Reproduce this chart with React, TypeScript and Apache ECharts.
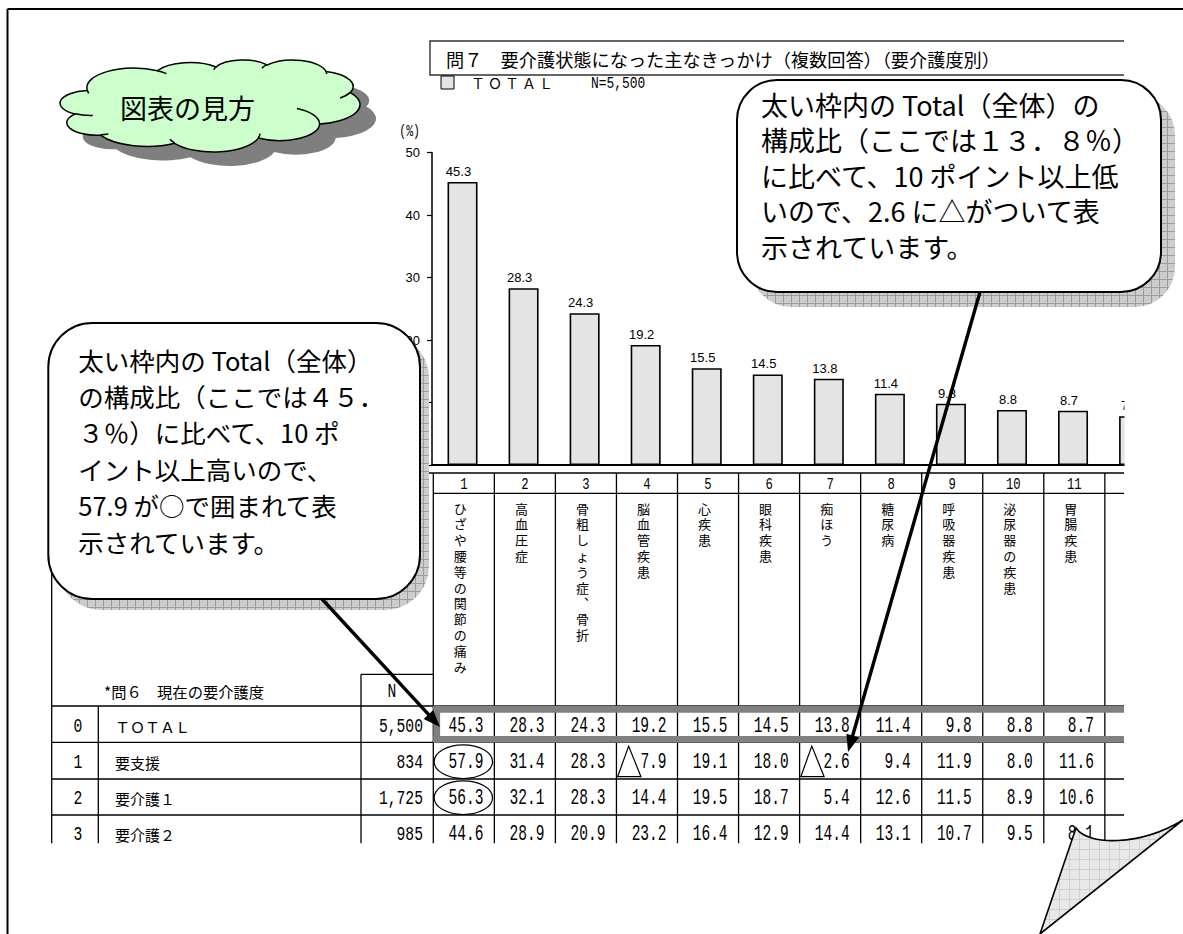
import React, { useEffect, useRef } from 'react';
import * as echarts from 'echarts';

// ---------------- data ----------------
const categoryNumbers = ['1', '2', '3', '4', '5', '6', '7', '8', '9', '10', '11', '12'];
const categoryNames = [
  'ひざや腰等の関節の痛み', '高血圧症', '骨粗しょう症、骨折', '脳血管疾患', '心疾患', '眼科疾患',
  '痴ほう', '糖尿病', '呼吸器疾患', '泌尿器の疾患', '胃腸疾患', '',
];
const totalValues = [45.3, 28.3, 24.3, 19.2, 15.5, 14.5, 13.8, 11.4, 9.8, 8.8, 8.7, 7.8];
const hiddenTickValues = [0, 10];

const rowNumbers = ['0', '1', '2', '3'];
const rowNames = ['ＴＯＴＡＬ', '要支援', '要介護１', '要介護２'];
const rowN = ['5,500', '834', '1,725', '985'];
const rowTotal = [45.3, 28.3, 24.3, 19.2, 15.5, 14.5, 13.8, 11.4, 9.8, 8.8, 8.7];
const rowYoshien = [57.9, 31.4, 28.3, 7.9, 19.1, 18.0, 2.6, 9.4, 11.9, 8.0, 11.6];
const rowKaigo1 = [56.3, 32.1, 28.3, 14.4, 19.5, 18.7, 5.4, 12.6, 11.5, 8.9, 10.6];
const rowKaigo2 = [44.6, 28.9, 20.9, 23.2, 16.4, 12.9, 14.4, 13.1, 10.7, 9.5, 8.1];
const circledCells = [[1, 0], [2, 0]];
const triangleCells = [[1, 3], [1, 6]];

const titleText = '問７　要介護状態になった主なきっかけ（複数回答）（要介護度別）';
const legendLabel = 'ＴＯＴＡＬ';
const legendN = 'N=5,500';
const yAxisName = '(%)';
const tableHeader = '*問６　現在の要介護度';
const nHeader = 'N';
const cloudLabel = '図表の見方';
const calloutRightLines = [
  '太い枠内の Total（全体）の',
  '構成比（ここでは１３．８％）',
  'に比べて、10 ポイント以上低',
  'いので、2.6 に△がついて表',
  '示されています。',
];
const calloutLeftLines = [
  '太い枠内の Total（全体）',
  'の構成比（ここでは４５．',
  '３％）に比べて、10 ポ',
  'イント以上高いので、',
  '57.9 が○で囲まれて表',
  '示されています。',
];

// ---------------- shape geometry (Office cloud preset) ----------------
const CLOUD_START = [3900, 14370];
const CLOUD_ARCS = [
  [6753, 9190, -11429249, 7426832],
  [5333, 7267, -8646143, 5396714],
  [4365, 5945, -8748475, 5983381],
  [4857, 6595, -7859164, 7034504],
  [5333, 7273, -4722533, 6541615],
  [6775, 9220, -2776035, 7816140],
  [5785, 7867, 37501, 6842000],
  [6752, 9215, 1347096, 6910353],
  [7720, 10543, 3974558, 4542661],
  [4360, 5918, -16496525, 8804134],
  [4345, 5945, -14809710, 9151131],
];
const CLOUD_INNER = [
  [4693, 26177, 4345, 5945, 5204520, 1585770],
  [6928, 34899, 4360, 5918, 4416628, 686848],
  [16478, 39090, 6752, 9215, 8257449, 844866],
  [28827, 34751, 6752, 9215, 387196, 959901],
  [34129, 22954, 5785, 7867, -4217541, 4255042],
  [41798, 15354, 5333, 7273, 1819082, 1665090],
  [38324, 5426, 4857, 6595, -824660, 891534],
  [29078, 3952, 4857, 6595, -8950887, 1091722],
  [22141, 4720, 4365, 5945, -9809656, 1061181],
  [14000, 5192, 6753, 9190, -4002417, 739161],
  [4127, 15789, 6753, 9190, 9459261, 711490],
];

type Seg = { m: boolean; x: number; y: number; wR?: number; hR?: number; cx?: number; cy?: number; t1?: number; t2?: number };

function traceArcs(start: number[], arcs: number[][]): Seg[] {
  const segs: Seg[] = [{ m: true, x: start[0], y: start[1] }];
  let cur = [start[0], start[1]];
  for (const [wR, hR, stA, swA] of arcs) {
    const st = (stA / 60000) * Math.PI / 180;
    const sw = (swA / 60000) * Math.PI / 180;
    const par = (th: number) => Math.atan2(wR * Math.sin(th), hR * Math.cos(th));
    const t1 = par(st);
    let t2 = par(st + sw);
    if (sw > 0) { while (t2 < t1) t2 += 2 * Math.PI; } else { while (t2 > t1) t2 -= 2 * Math.PI; }
    const cx = cur[0] - wR * Math.cos(t1);
    const cy = cur[1] - hR * Math.sin(t1);
    const ex = cx + wR * Math.cos(t2);
    const ey = cy + hR * Math.sin(t2);
    segs.push({ m: false, x: ex, y: ey, wR, hR, cx, cy, t1, t2 });
    cur = [ex, ey];
  }
  return segs;
}

const outlineSegs = traceArcs(CLOUD_START, CLOUD_ARCS);
const innerSegs: Seg[] = [];
for (const [mx, my, wR, hR, st, sw] of CLOUD_INNER) {
  innerSegs.push(...traceArcs([mx, my], [[wR, hR, st, sw]]));
}

function bounds(segs: Seg[]) {
  let minX = Infinity, minY = Infinity, maxX = -Infinity, maxY = -Infinity;
  const add = (x: number, y: number) => {
    minX = Math.min(minX, x); maxX = Math.max(maxX, x);
    minY = Math.min(minY, y); maxY = Math.max(maxY, y);
  };
  for (const s of segs) {
    if (s.m) { add(s.x, s.y); continue; }
    for (let i = 0; i <= 60; i++) {
      const t = s.t1! + (s.t2! - s.t1!) * i / 60;
      add(s.cx! + s.wR! * Math.cos(t), s.cy! + s.hR! * Math.sin(t));
    }
  }
  return { minX, minY, maxX, maxY };
}

const CLOUD_BOX = { x: 60, y: 60, w: 300, h: 92 };
const cb = bounds(outlineSegs);
const csx = CLOUD_BOX.w / (cb.maxX - cb.minX);
const csy = CLOUD_BOX.h / (cb.maxY - cb.minY);
const cox = CLOUD_BOX.x - cb.minX * csx;
const coy = CLOUD_BOX.y - cb.minY * csy;

function segsToD(segs: Seg[], close: boolean) {
  const f = (v: number) => v.toFixed(2);
  let d = '';
  for (const s of segs) {
    const X = cox + s.x * csx;
    const Y = coy + s.y * csy;
    if (s.m) { d += `M ${f(X)} ${f(Y)} `; continue; }
    const large = Math.abs(s.t2! - s.t1!) > Math.PI ? 1 : 0;
    const sweep = s.t2! > s.t1! ? 1 : 0;
    d += `A ${f(s.wR! * csx)} ${f(s.hR! * csy)} 0 ${large} ${sweep} ${f(X)} ${f(Y)} `;
  }
  if (close) d += 'Z';
  return d;
}

echarts.graphic.registerShape('cloudOutline', echarts.graphic.extendPath(segsToD(outlineSegs, true), {}));
echarts.graphic.registerShape('cloudInner', echarts.graphic.extendPath(segsToD(innerSegs, false), {}));
echarts.graphic.registerShape('pageFlap', echarts.graphic.extendPath('M 1076 828 C 1088 846 1140 846 1183 820 L 1040 934 Z', {}));

// ---------------- layout ----------------
const GRID_LEFT = 432;
const GRID_TOP = 152.5;
const GRID_BOTTOM_Y = 465;
const COLW = 61.05;
const TX0 = 433.3;
const CLIPX = 1124;
const TABLE_LEFT = 51.7;
const ROWNUM_DIV = 98.3;
const N_DIV = 361;
const Y_TOP = 473;
const Y_NUM_BOTTOM = 493.3;
const Y_NBOX = 674.3;
const ROW_LINES = [706, 742.3, 779, 815];
const Y_BOTTOM = 843.3;
const ROW_CENTERS = [726.5, 762.5, 798.5, 834.5];

const numFont = '"Liberation Mono","DejaVu Sans Mono",monospace';
const jpFont = '"Noto Sans CJK JP","Noto Sans CJK SC",sans-serif';
const sansFont = '"Liberation Sans",Arial,sans-serif';

function txt(text: string, x: number, y: number, o: any = {}) {
  const align = o.align || 'left';
  const va = o.va || 'middle';
  return {
    type: 'text', x, y, z: o.z ?? 5, scaleX: o.sx ?? 1, silent: true,
    style: {
      text, fill: '#000', fontSize: o.size ?? 14, fontFamily: o.font ?? jpFont,
      align, textAlign: align, verticalAlign: va, textVerticalAlign: va,
      lineHeight: o.lh,
    },
  };
}
function num(text: string, x: number, y: number, align = 'right', size = 21, sx = 0.7, z = 5) {
  return txt(text, x, y, { align, size, sx, font: numFont, z });
}
function line(x1: number, y1: number, x2: number, y2: number, w = 1.3, color = '#000', z = 4) {
  return { type: 'line', z, silent: true, shape: { x1, y1, x2, y2 }, style: { stroke: color, lineWidth: w } };
}
function arrow(x1: number, y1: number, x2: number, y2: number, z = 30) {
  const a = Math.atan2(y2 - y1, x2 - x1);
  const L = 17, W = 6.5;
  const bx = x2 - L * Math.cos(a), by = y2 - L * Math.sin(a);
  const px = -Math.sin(a) * W, py = Math.cos(a) * W;
  return [
    line(x1, y1, bx + Math.cos(a) * 2, by + Math.sin(a) * 2, 3.4, '#000', z),
    { type: 'polygon', z, silent: true, shape: { points: [[x2, y2], [bx + px, by + py], [bx - px, by - py]] }, style: { fill: '#000' } },
  ];
}
function gridPattern(bg: string, ln: string, size: number) {
  const c = document.createElement('canvas');
  c.width = size; c.height = size;
  const g = c.getContext('2d')!;
  g.fillStyle = bg; g.fillRect(0, 0, size, size);
  g.fillStyle = ln; g.fillRect(size - 1, 0, 1, size); g.fillRect(0, size - 1, size, 1);
  return { image: c, repeat: 'repeat', imageWidth: size, imageHeight: size };
}

function buildGraphics() {
  const els: any[] = [];
  const shadowFill = gridPattern('#cdcdcd', '#9c9c9c', 8);
  const flapFill = gridPattern('#e8e8e8', '#d0d0d0', 10);

  // outer frame
  els.push(line(7.5, 9, 7.5, 934, 2, '#000', 45));
  els.push(line(7.5, 9, 1183, 9, 2, '#000', 45));

  // title box (open on the right, clipped)
  els.push({ type: 'polyline', z: 4, silent: true, shape: { points: [[CLIPX, 41], [430, 41], [430, 75], [CLIPX, 75]] }, style: { stroke: '#333', lineWidth: 1.4, fill: 'none' } });
  els.push(txt(titleText, 446, 58.5, { size: 18.2 }));

  // legend
  els.push({ type: 'rect', z: 4, silent: true, shape: { x: 441, y: 76, width: 13, height: 13 }, style: { fill: '#e4e4e4', stroke: '#000', lineWidth: 1 } });
  Array.from(legendLabel).forEach((ch, i) => els.push(txt(ch, 478 + i * 17, 83, { size: 14, align: 'center' })));
  els.push(num(legendN, 591, 83, 'left', 17, 0.76));
  els.push(num(yAxisName, 420, 131, 'right', 16, 0.72));

  // mask for the clipped right side of the plot
  els.push({ type: 'rect', z: 8, silent: true, shape: { x: CLIPX + 0.5, y: 140, width: 1183 - CLIPX, height: 332 }, style: { fill: '#fff' } });

  // ---------- table ----------
  els.push(line(TABLE_LEFT, Y_TOP, CLIPX, Y_TOP));
  els.push(line(TX0, Y_NUM_BOTTOM, CLIPX, Y_NUM_BOTTOM));
  els.push(line(N_DIV, Y_NBOX, TX0, Y_NBOX));
  for (const y of ROW_LINES) els.push(line(TABLE_LEFT, y, CLIPX, y));
  els.push(line(TABLE_LEFT, Y_TOP, TABLE_LEFT, Y_BOTTOM));
  els.push(line(ROWNUM_DIV, ROW_LINES[0], ROWNUM_DIV, Y_BOTTOM));
  els.push(line(N_DIV, Y_NBOX, N_DIV, Y_BOTTOM));
  for (let k = 0; k < 12; k++) {
    const x = TX0 + k * COLW;
    if (x < CLIPX) els.push(line(x, Y_TOP, x, Y_BOTTOM));
  }
  // thick grey frame around TOTAL row
  els.push({ type: 'rect', z: 6, silent: true, shape: { x: TX0, y: 705.7, width: CLIPX - TX0, height: 7 }, style: { fill: '#808080' } });
  els.push({ type: 'rect', z: 6, silent: true, shape: { x: TX0, y: 736, width: CLIPX - TX0, height: 6.8 }, style: { fill: '#808080' } });
  els.push({ type: 'rect', z: 6, silent: true, shape: { x: TX0, y: 705.7, width: 6.8, height: 37.1 }, style: { fill: '#808080' } });

  // column numbers and vertical names
  for (let k = 0; k < 11; k++) {
    const cx = TX0 + (k + 0.5) * COLW;
    els.push(num(categoryNumbers[k], cx, 484, 'center', 17, 0.72));
    const chars = Array.from(categoryNames[k].replace('、', '︑'));
    els.push(txt(chars.join('\n'), cx - 3.5, 500.3, { align: 'center', va: 'top', size: 13, lh: 15.8 }));
  }

  els.push(txt(tableHeader, 104, 691, { size: 15.3 }));
  els.push(num(nHeader, 392, 691, 'center', 21, 0.7));

  const tableRows = [rowTotal, rowYoshien, rowKaigo1, rowKaigo2];
  for (let r = 0; r < tableRows.length; r++) {
    const cy = ROW_CENTERS[r];
    els.push(num(rowNumbers[r], 78, cy, 'center'));
    els.push(txt(rowNames[r], 115, cy, { size: 15 }));
    els.push(num(rowN[r], 423, cy, 'right'));
    tableRows[r].forEach((v, k) => {
      const right = TX0 + (k + 1) * COLW - 11;
      els.push(num(v.toFixed(1), right, cy, 'right', 22, 0.66, 7));
    });
  }
  for (const [r, k] of circledCells) {
    els.push({ type: 'ellipse', z: 7, silent: true, shape: { cx: TX0 + (k + 0.5) * COLW - 0.5, cy: ROW_CENTERS[r] - 0.8, rx: 29.2, ry: 16.8 }, style: { fill: 'none', stroke: '#000', lineWidth: 1.2 } });
  }
  for (const [r, k] of triangleCells) {
    const cl = TX0 + k * COLW;
    const top = ROW_LINES[r] + 3.8;
    const bot = ROW_LINES[r + 1] - 2.3;
    els.push({ type: 'polygon', z: 7, silent: true, shape: { points: [[cl + 1.2, bot], [cl + 24.5, bot], [cl + 12.2, top]] }, style: { fill: 'none', stroke: '#000', lineWidth: 1.2 } });
  }

  // ---------- cloud ----------
  els.push({ type: 'cloudOutline', x: 16, y: 14, z: 20, silent: true, style: { fill: '#7f7f7f' } });
  els.push({ type: 'cloudOutline', z: 21, silent: true, style: { fill: '#ccffcc', stroke: '#000', lineWidth: 1.5 } });
  els.push({ type: 'cloudInner', z: 21, silent: true, style: { fill: 'none', stroke: '#000', lineWidth: 1.5 } });
  els.push(txt(cloudLabel, 120, 107, { size: 27, z: 22 }));

  // ---------- callouts ----------
  const c1 = { x: 737, y: 80, w: 424, h: 212, r: 40 };
  els.push({ type: 'rect', z: 20, silent: true, shape: { x: c1.x + 14, y: c1.y + 15, width: c1.w, height: c1.h, r: c1.r }, style: { fill: shadowFill } });
  els.push({ type: 'rect', z: 21, silent: true, shape: { x: c1.x, y: c1.y, width: c1.w, height: c1.h, r: c1.r }, style: { fill: '#fff', stroke: '#000', lineWidth: 2 } });
  calloutRightLines.forEach((s, i) => els.push(txt(s, 761, 104 + i * 35.6, { size: 27, z: 22 })));

  const c2 = { x: 48.3, y: 323, w: 371.7, h: 276, r: 44 };
  els.push({ type: 'rect', z: 20, silent: true, shape: { x: c2.x + 9, y: c2.y + 11, width: c2.w, height: c2.h, r: c2.r }, style: { fill: shadowFill } });
  els.push({ type: 'rect', z: 21, silent: true, shape: { x: c2.x, y: c2.y, width: c2.w, height: c2.h, r: c2.r }, style: { fill: '#fff', stroke: '#000', lineWidth: 2 } });
  calloutLeftLines.forEach((s, i) => els.push(txt(s, 78.3, 359 + i * 36.4, { size: 25.5, z: 22 })));

  // arrows
  els.push(...arrow(322, 599, 440, 727));
  els.push(...arrow(980, 292, 848, 752));

  // page curl
  els.push({ type: 'pageFlap', z: 40, silent: true, style: { fill: flapFill, stroke: '#000', lineWidth: 1.6 } });

  return els;
}

function buildOption() {
  return {
    animation: false,
    backgroundColor: '#ffffff',
    grid: { left: GRID_LEFT, top: GRID_TOP, width: COLW * categoryNumbers.length, height: GRID_BOTTOM_Y - GRID_TOP, containLabel: false },
    xAxis: {
      type: 'category', data: categoryNumbers,
      axisLine: { show: true, lineStyle: { color: '#000', width: 1.8 } },
      axisTick: { show: false }, axisLabel: { show: false }, splitLine: { show: false },
    },
    yAxis: {
      type: 'value', min: 0, max: 50, interval: 10,
      axisLine: { show: true, lineStyle: { color: '#000', width: 1.5 } },
      axisTick: { show: true, inside: false, length: 5, lineStyle: { color: '#000', width: 1.2 } },
      axisLabel: {
        color: '#000', fontSize: 13, fontFamily: sansFont, margin: 12,
        formatter: (v: number) => (hiddenTickValues.includes(v) ? '' : String(v)),
      },
      splitLine: { show: false },
    },
    series: [{
      type: 'bar', data: totalValues, barWidth: 30,
      itemStyle: { color: '#e4e4e4', borderColor: '#000', borderWidth: 1.6 },
      label: {
        show: true, position: 'top', distance: 4, offset: [-4, 0], color: '#000',
        fontSize: 13, fontFamily: sansFont, formatter: (p: any) => Number(p.value).toFixed(1),
      },
    }],
    graphic: { elements: buildGraphics() },
  };
}

export default function App() {
  const ref = useRef<HTMLDivElement>(null);
  useEffect(() => {
    if (!ref.current) return;
    const chart = echarts.init(ref.current, null, { renderer: 'svg' });
    chart.setOption(buildOption() as any);
    return () => chart.dispose();
  }, []);
  return <div ref={ref} style={{ position: 'absolute', left: 0, top: 0, width: 1183, height: 934, background: '#fff' }} />;
}
